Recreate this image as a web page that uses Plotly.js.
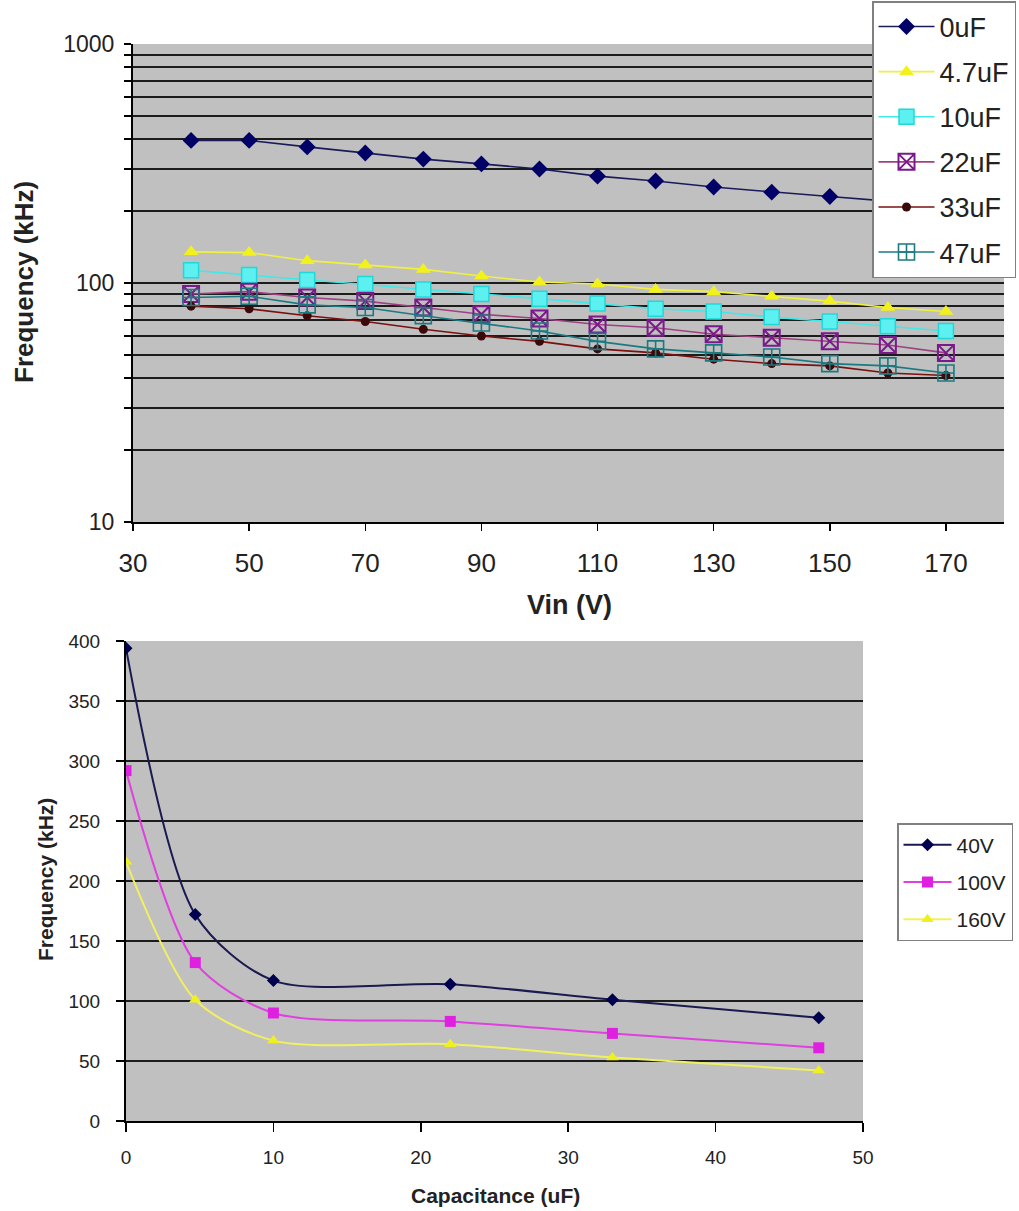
<!DOCTYPE html>
<html><head><meta charset="utf-8">
<script src="https://cdn.plot.ly/plotly-3.0.1.min.js"></script>
<style>html,body{margin:0;padding:0;background:#fff}#chart{width:1019px;height:1211px}</style>
</head><body><div id="chart"></div>
<script>
// ---------- Top chart data: Frequency (kHz) vs Vin (V) ----------
const vin = [40, 50, 60, 70, 80, 90, 100, 110, 120, 130, 140, 150, 160, 170];
const f0uF  = [395, 395, 371, 350, 330, 315, 300, 280, 267, 252, 240, 230, 220, 211];
const f4p7uF = [135, 134, 124, 119, 114, 107, 101, 99, 94, 92, 88, 84, 79, 76];
const f10uF = [113, 108, 103, 99, 94, 90, 86, 82, 78, 76, 72, 69, 66, 63];
const f22uF = [90, 92, 87, 84, 79, 74, 71, 67, 65, 61, 59, 57, 55, 51];
const f33uF = [80, 78, 73, 69, 64, 60, 57, 53, 51, 48, 46, 45, 42, 41];
const f47uF = [87, 88, 81, 79, 73, 68, 63, 57, 53, 51, 49, 46, 45, 42];
const topNames = ["0uF", "4.7uF", "10uF", "22uF", "33uF", "47uF"];
const topXTicks = [30, 50, 70, 90, 110, 130, 150, 170];
const topYTickVals = [10,20,30,40,50,60,70,80,90,100,200,300,400,500,600,700,800,900,1000];
const topYTickText = ["10","","","","","","","","","100","","","","","","","","","1000"];

// ---------- Bottom chart data: Frequency (kHz) vs Capacitance (uF) ----------
const cap = [0, 4.7, 10, 22, 33, 47];
const v40  = [394, 172, 117, 114, 101, 86];
const v100 = [292, 132, 90, 83, 73, 61];
const v160 = [216, 101, 67, 64, 53, 42];
const botNames = ["40V", "100V", "160V"];

// ---------- layout helpers ----------
const W = 1019, H = 1211;
const px = x => x / W;
const py = y => 1 - y / H;
const FONT = "Liberation Sans, Arial, sans-serif";
const GRID = "#1c1c1c";

function topTrace(y, i, mk, lc) {
  return {
    x: vin, y: y, name: topNames[i], type: "scatter", mode: "lines+markers",
    xaxis: "x", yaxis: "y", legend: "legend", legendgroup: "t" + i,
    line: {color: lc, width: 1.6}, marker: mk
  };
}
function botTrace(y, i, mk, lc) {
  return {
    x: cap, y: y, name: botNames[i], type: "scatter", mode: "lines+markers",
    xaxis: "x2", yaxis: "y2", legend: "legend2", legendgroup: "b" + i,
    line: {color: lc, width: 2, shape: "spline", smoothing: 0.8}, marker: mk
  };
}

const data = [
  topTrace(f0uF, 0, {symbol: "diamond", size: 13, color: "#000066", line: {width: 0}}, "#1a1a5a"),
  topTrace(f4p7uF, 1, {symbol: "triangle-up", size: 13, color: "#f2f21a", line: {width: 0}}, "#f0f040"),
  topTrace(f10uF, 2, {symbol: "square", size: 15, color: "#5cf0f0", line: {color: "#20d8d8", width: 1.5}}, "#40e8e8"),
  topTrace(f22uF, 3, {symbol: "square-x-open", size: 16, color: "#7a1a8a", line: {width: 2}}, "#a04080"),
  topTrace(f33uF, 4, {symbol: "circle", size: 9, color: "#3a0a0a", line: {width: 0}}, "#7a1010"),
  topTrace(f47uF, 5, {symbol: "square-cross-open", size: 16, color: "#1a7a80", line: {width: 1.6}}, "#1a7a80"),
  botTrace(v40, 0, {symbol: "diamond", size: 10, color: "#000050"}, "#1a1a50"),
  botTrace(v100, 1, {symbol: "square", size: 11, color: "#e020e0"}, "#e040e0"),
  botTrace(v160, 2, {symbol: "triangle-up", size: 11, color: "#f0f020"}, "#f0f060")
];

const layout = {
  width: W, height: H,
  margin: {l: 0, r: 0, t: 0, b: 0},
  paper_bgcolor: "#ffffff",
  plot_bgcolor: "#c0c0c0",
  font: {family: FONT, color: "#1a1a1a"},
  showlegend: true,
  xaxis: {
    domain: [px(133), px(1004)], anchor: "y",
    range: [30, 180], tickmode: "array", tickvals: topXTicks,
    showgrid: false, zeroline: false,
    showline: true, linecolor: "#000", linewidth: 2,
    ticks: "outside", ticklen: 7, tickwidth: 1.5, tickcolor: "#000",
    tickfont: {size: 26, family: FONT, color: "#222"}, ticklabelstandoff: 10
  },
  yaxis: {
    domain: [py(522), py(44)], anchor: "x",
    type: "log", range: [1, 3],
    tickmode: "array", tickvals: topYTickVals, ticktext: topYTickText,
    showgrid: true, gridcolor: GRID, gridwidth: 2, zeroline: false,
    showline: true, linecolor: "#000", linewidth: 2,
    ticks: "outside", ticklen: 7, tickwidth: 1.5, tickcolor: "#000",
    tickfont: {size: 23, family: FONT, color: "#222"}, ticklabelstandoff: 5
  },
  xaxis2: {
    domain: [px(126), px(863)], anchor: "y2",
    range: [0, 50], dtick: 10, tick0: 0,
    showgrid: false, zeroline: false,
    showline: true, linecolor: "#000", linewidth: 2,
    ticks: "outside", ticklen: 9, tickwidth: 1.5, tickcolor: "#000",
    tickfont: {size: 19, family: FONT, color: "#222"}, ticklabelstandoff: 9
  },
  yaxis2: {
    domain: [py(1121), py(641)], anchor: "x2",
    range: [0, 400], dtick: 50, tick0: 0,
    showgrid: true, gridcolor: GRID, gridwidth: 2, zeroline: false,
    showline: true, linecolor: "#000", linewidth: 2,
    ticks: "outside", ticklen: 8, tickwidth: 1.5, tickcolor: "#000",
    tickfont: {size: 19, family: FONT, color: "#222"}, ticklabelstandoff: 12
  },
  legend: {
    x: px(872), y: py(1), xanchor: "left", yanchor: "top",
    bgcolor: "#ffffff", bordercolor: "#808080", borderwidth: 1.5,
    font: {size: 27, family: FONT, color: "#222"},
    tracegroupgap: 7, itemwidth: 56, traceorder: "grouped"
  },
  legend2: {
    x: px(897), y: py(823), xanchor: "left", yanchor: "top",
    bgcolor: "#ffffff", bordercolor: "#808080", borderwidth: 1.5,
    font: {size: 21, family: FONT, color: "#222"},
    tracegroupgap: 7, itemwidth: 48, traceorder: "grouped"
  },
  annotations: [
    {text: "<b>Frequency (kHz)</b>", xref: "paper", yref: "paper", x: px(24), y: py(282),
     textangle: -90, showarrow: false, xanchor: "center", yanchor: "middle",
     font: {size: 26, family: FONT, color: "#222"}},
    {text: "<b>Vin (V)</b>", xref: "paper", yref: "paper", x: px(569), y: py(605),
     showarrow: false, xanchor: "center", yanchor: "middle",
     font: {size: 27, family: FONT, color: "#222"}},
    {text: "<b>Frequency (kHz)</b>", xref: "paper", yref: "paper", x: px(45), y: py(880),
     textangle: -90, showarrow: false, xanchor: "center", yanchor: "middle",
     font: {size: 21, family: FONT, color: "#222"}},
    {text: "<b>Capacitance (uF)</b>", xref: "paper", yref: "paper", x: px(495), y: py(1195),
     showarrow: false, xanchor: "center", yanchor: "middle",
     font: {size: 21, family: FONT, color: "#222"}}
  ]
};

Plotly.newPlot("chart", data, layout, {displayModeBar: false, staticPlot: true});
</script></body></html>
